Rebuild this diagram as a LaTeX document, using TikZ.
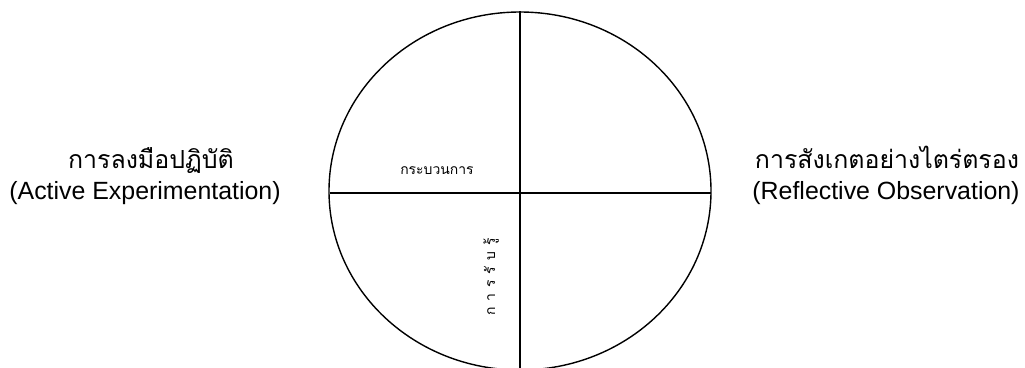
\documentclass[tikz,border=0pt]{standalone}
\usepackage{fontspec}
\setmainfont{Liberation Sans}
\newfontfamily\thaifont[Script=Thai]{Loma}
\usetikzlibrary{shapes.geometric}
\begin{document}
\begin{tikzpicture}[x=1bp,y=-1bp,
  ring/.style={draw,line width=1.4bp,ellipse,minimum width=382bp,minimum height=358bp,inner sep=0pt},
  divider/.style={line width=1.2bp},
  thaibig/.style={font=\thaifont\fontsize{25}{28}\selectfont,inner sep=0pt},
  engtext/.style={font=\fontsize{25}{28}\selectfont,inner sep=0pt},
  thaismall/.style={font=\thaifont\fontsize{14}{16}\selectfont,inner sep=0pt}]
\useasboundingbox (0,0) rectangle (1025,367);
\node[ring] (circ) at (520,191) {};
\coordinate (hl) at (329.5,193);
\coordinate (hr) at (710.5,193);
\draw[divider] (circ.north) -- (circ.south);
\draw[divider] (hl) -- (hr);
\node[thaibig] (aeth) at (151,161) {การลงมือปฏิบัติ};
\node[engtext] (aeen) at (145,193) {(Active Experimentation)};
\node[thaibig] (roth) at (887,157) {การสังเกตอย่างไตร่ตรอง};
\node[engtext] (roen) at (886,193) {(Reflective Observation)};
\node[thaismall] (proc) at (437,171) {กระบวนการ};
\node[thaismall,rotate=90] (perc) at (491,277) {ก\hspace{6pt}า\hspace{6pt}ร\hspace{6pt}รั\hspace{6pt}บ\hspace{6pt}รู้};
\end{tikzpicture}
\end{document}
